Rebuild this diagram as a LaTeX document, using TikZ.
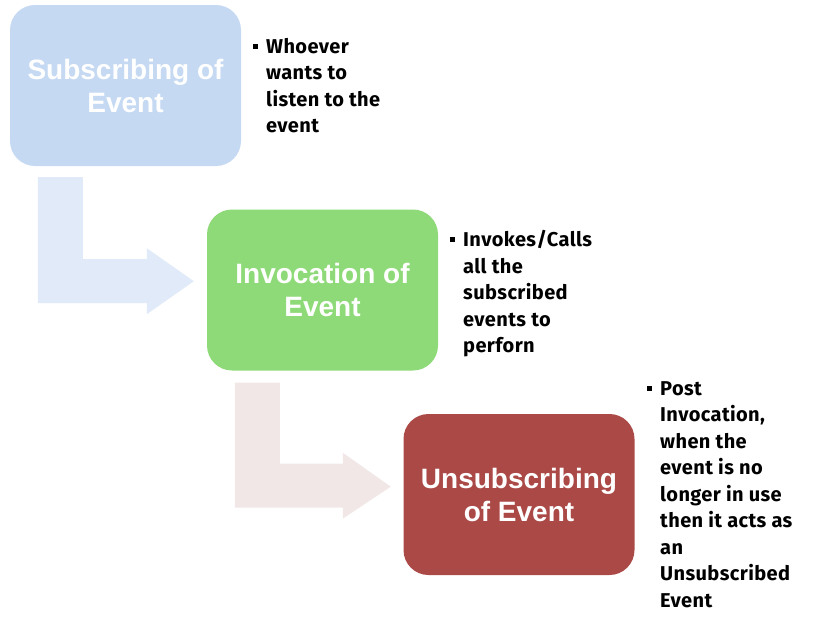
\documentclass[tikz,border=0pt]{standalone}
\usepackage{fontspec}
\usepackage{tikz}
\usetikzlibrary{calc}
\setmainfont{Fira Sans}[LetterSpace=2]
\newfontfamily\titlefont{Liberation Sans}

\definecolor{subblue}{HTML}{C5D9F2}
\definecolor{invgreen}{HTML}{8FDA78}
\definecolor{unsubred}{HTML}{AA4946}
\definecolor{arrowblue}{HTML}{E1EAF8}
\definecolor{arrowpink}{HTML}{F1E7E7}

\tikzset{
    stage/.style={rectangle, rounded corners=25pt, minimum width=231pt, minimum height=161pt,
        text=white, align=center, font=\titlefont\bfseries\fontsize{28}{33}\selectfont},
    note/.style={anchor=north west, inner sep=0pt, align=left,
        font=\bfseries\fontsize{20}{26.5}\selectfont}
}
\newcommand{\bul}{\llap{\rule[4.5pt]{5pt}{5pt}\hspace{8pt}}}

\begin{document}
\begin{tikzpicture}[x=1pt,y=-1pt]
        \useasboundingbox (0,0) rectangle (815,622);

        \node[stage, fill=subblue] (sub) at (125.5, 85.5) {Subscribing of\\Event};
        \node[stage, fill=invgreen] (inv) at (322.5, 290) {Invocation of\\Event};
        \node[stage, fill=unsubred] (unsub) at (519, 494.5) {Unsubscribing\\of Event};

        \node[note] (subnote) at (266, 38) {\bul Whoever\\wants to\\listen to the\\event};
        \node[note] (invnote) at (463, 230) {\bul Invokes/Calls\\all the\\subscribed\\events to\\perforn};
        \node[note] (unsubnote) at (660, 381) {\bul Post\\Invocation,\\when the\\event is no\\longer in use\\then it acts as\\an\\Unsubscribed\\Event};

        % bent arrows between the stages
        \fill[arrowblue] ([shift={(28,11)}]sub.south west) -- ++(45,0) -- ++(0,82) -- ++(64,0)
            -- ++(0,-11) -- ++(47,33) -- ++(-47,33) -- ++(0,-11) -- ++(-109,0) -- cycle;
        \fill[arrowpink] ([shift={(28,12)}]inv.south west) -- ++(45,0) -- ++(0,81) -- ++(63,0)
            -- ++(0,-11) -- ++(48,34) -- ++(-48,32) -- ++(0,-11) -- ++(-108,0) -- cycle;
    \end{tikzpicture}
\end{document}
